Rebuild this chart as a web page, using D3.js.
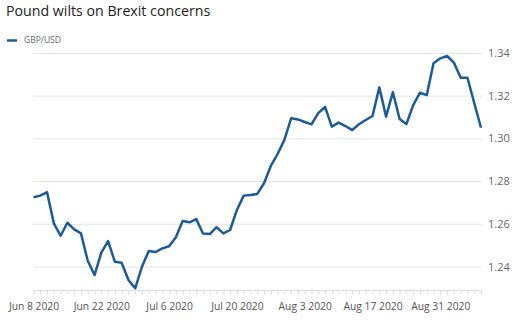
<!DOCTYPE html>
<html>
<head>
<meta charset="utf-8">
<script src="https://cdn.jsdelivr.net/npm/d3@7"></script>
<style>
  body { margin: 0; background: #fff; }
  text { font-family: "Open Sans", sans-serif; }
</style>
</head>
<body>
<div id="graph"></div>
<script>
// GBP/USD daily close, business days from Jun 8 2020
const startDate = "2020-06-08";
const endDate = "2020-09-08";
const gbpUsd = [
  1.2724, 1.2732, 1.2748, 1.2602, 1.2544, 1.2605, 1.2574, 1.2555, 1.2427, 1.2360,
  1.2465, 1.2519, 1.2422, 1.2418, 1.2337, 1.2298, 1.2399, 1.2473, 1.2468, 1.2485,
  1.2495, 1.2537, 1.2613, 1.2607, 1.2622, 1.2555, 1.2552, 1.2584, 1.2555, 1.2571,
  1.2665, 1.2732, 1.2735, 1.2740, 1.2790, 1.2871, 1.2927, 1.2993, 1.3094, 1.3089,
  1.3077, 1.3066, 1.3118, 1.3148, 1.3055, 1.3074, 1.3058, 1.3039, 1.3066, 1.3086,
  1.3105, 1.3239, 1.3102, 1.3216, 1.3091, 1.3067, 1.3156, 1.3214, 1.3203, 1.3352,
  1.3375, 1.3386, 1.3355, 1.3284, 1.3284, 1.3166, 1.3050
];
const yTicks = [1.24, 1.26, 1.28, 1.30, 1.32, 1.34];
const xLabelEvery = 10;

function createChart() {
    const width = 514;
    const height = 324;

    const parse = d3.timeParse("%Y-%m-%d");
    const dates = d3.timeDay.range(parse(startDate), d3.timeDay.offset(parse(endDate), 1))
        .filter(d => d.getDay() !== 0 && d.getDay() !== 6);
    const data = dates.map((d, i) => ({ date: d, value: gbpUsd[i] }));

    const svg = d3.select("#graph")
        .append("svg")
        .attr("width", width)
        .attr("height", height);

    const xScale = d3.scalePoint()
        .domain(dates)
        .range([33.5, 481]);

    const yScale = d3.scaleLinear()
        .domain([1.229, 1.34])
        .range([290, 53]);

    // Title
    svg.append("text")
        .attr("x", 6)
        .attr("y", 16)
        .attr("font-size", "14.2px")
        .attr("fill", "#222")
        .text("Pound wilts on Brexit concerns");

    // Legend
    svg.append("line")
        .attr("x1", 7).attr("x2", 17)
        .attr("y1", 40.5).attr("y2", 40.5)
        .attr("stroke", "#1d5a98")
        .attr("stroke-width", 2.5);

    svg.append("text")
        .attr("x", 24)
        .attr("y", 41)
        .attr("dominant-baseline", "middle")
        .attr("font-size", "8.5px")
        .attr("fill", "#666")
        .text("GBP/USD");

    // Gridlines + y labels
    const yAxis = d3.axisRight(yScale)
        .tickValues(yTicks)
        .tickSize(449)
        .tickFormat(d3.format(".2f"));

    const gy = svg.append("g")
        .attr("transform", "translate(33,0)")
        .call(yAxis);
    gy.select(".domain").remove();
    gy.selectAll(".tick line").attr("stroke", "#e6e6e6");
    gy.selectAll(".tick text")
        .attr("x", 455)
        .attr("fill", "#666")
        .attr("font-size", "11px")
        .attr("font-family", "Open Sans, sans-serif");

    // x axis: a tick per business day, label every two weeks
    const xAxis = d3.axisBottom(xScale)
        .tickSize(5)
        .tickFormat((d, i) => i % xLabelEvery === 0 ? d3.timeFormat("%b %-d %Y")(d) : "");

    const gx = svg.append("g")
        .attr("transform", "translate(0,290)")
        .call(xAxis);
    gx.select(".domain")
        .attr("d", "M33,0.5H482")
        .attr("stroke", "#ddd");
    gx.selectAll(".tick line").attr("stroke", "#ddd");
    gx.selectAll(".tick text")
        .attr("y", 13)
        .attr("fill", "#555")
        .attr("font-size", "10.3px")
        .attr("font-family", "Open Sans, sans-serif");

    // Line
    const line = d3.line()
        .x(d => xScale(d.date))
        .y(d => yScale(d.value));

    svg.append("path")
        .datum(data)
        .attr("fill", "none")
        .attr("stroke", "#1d5a98")
        .attr("stroke-width", 2.5)
        .attr("stroke-linejoin", "round")
        .attr("d", line);
}

createChart();
</script>
</body>
</html>
